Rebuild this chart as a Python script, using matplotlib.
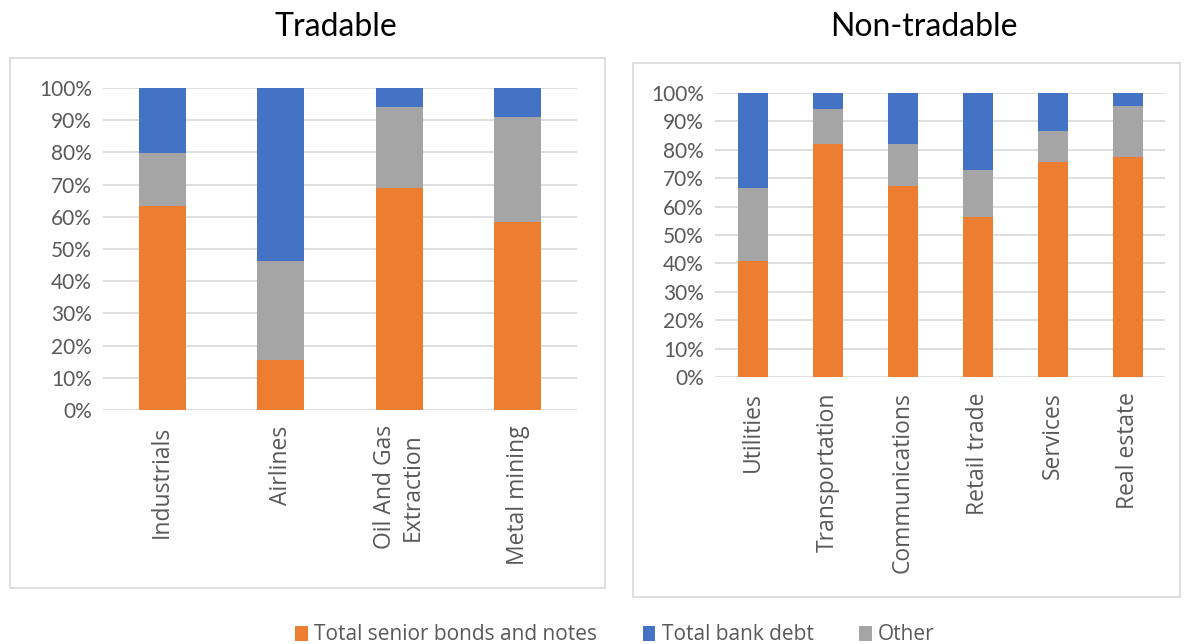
import matplotlib
matplotlib.use("Agg")
import matplotlib.pyplot as plt
from matplotlib.patches import Rectangle
from matplotlib.ticker import PercentFormatter

plt.rcParams['font.family'] = ['Lato', 'DejaVu Sans']

# Data (shares in %)
trad_cats = ["Industrials", "Airlines", "Oil And Gas\nExtraction", "Metal mining"]
trad_bonds = [63.5, 15.4, 69.0, 58.5]
trad_other = [16.3, 31.0, 25.0, 32.5]
trad_bank = [20.2, 53.6, 6.0, 9.0]

nontrad_cats = ["Utilities", "Transportation", "Communications", "Retail trade", "Services", "Real estate"]
nontrad_bonds = [40.8, 82.0, 67.1, 56.2, 75.6, 77.3]
nontrad_other = [25.6, 12.5, 14.8, 16.8, 11.1, 18.1]
nontrad_bank = [33.6, 5.5, 18.1, 27.0, 13.3, 4.6]

series_names = ["Total senior bonds and notes", "Total bank debt", "Other"]
titles = ["Tradable", "Non-tradable"]

C_ORANGE = "#ED7D31"
C_BLUE = "#4472C4"
C_GRAY = "#A5A5A5"
GRID = "#D9D9D9"
TXT = "#595959"

fig = plt.figure(figsize=(11.84, 6.44), dpi=100)

# panel frames
for (x, y, w, h) in [(10/1184, 56/644, 595/1184, 530/644), (633/1184, 47/644, 547/1184, 534/644)]:
    fig.add_artist(Rectangle((x, y), w, h, transform=fig.transFigure, fill=False,
                             edgecolor=GRID, linewidth=1.2))

ax1 = fig.add_axes([103/1184, 234/644, 474/1184, 322/644])
ax2 = fig.add_axes([715/1184, 267/644, 450/1184, 284/644])


def draw(ax, cats, bonds, other, bank):
    xs = range(len(cats))
    b1 = ax.bar(xs, bonds, width=0.4, color=C_ORANGE, zorder=3)
    b3 = ax.bar(xs, other, width=0.4, bottom=bonds, color=C_GRAY, zorder=3)
    bot = [a + b for a, b in zip(bonds, other)]
    b2 = ax.bar(xs, bank, width=0.4, bottom=bot, color=C_BLUE, zorder=3)
    ax.set_xlim(-0.5, len(cats) - 0.5)
    ax.set_ylim(0, 100)
    ax.set_yticks(range(0, 101, 10))
    ax.yaxis.set_major_formatter(PercentFormatter(decimals=0))
    ax.grid(axis='y', color=GRID, linewidth=1.2, zorder=0)
    ax.set_axisbelow(True)
    for s in ax.spines.values():
        s.set_visible(False)
    ax.tick_params(axis='both', length=0, labelcolor=TXT)
    ax.tick_params(axis='y', pad=8, labelsize=15)
    ax.tick_params(axis='x', pad=11)
    ax.set_xticks(list(xs))
    ax.set_xticklabels(cats, rotation=90, ha='center', va='top', multialignment='center',
                       family=['Open Sans', 'DejaVu Sans'], fontsize=16.5)
    return b1, b2, b3


h = draw(ax1, trad_cats, trad_bonds, trad_other, trad_bank)
draw(ax2, nontrad_cats, nontrad_bonds, nontrad_other, nontrad_bank)

fig.text(336/1184, 1 - 27/644, titles[0], ha='center', va='center', fontsize=23, color='black')
fig.text(924/1184, 1 - 27/644, titles[1], ha='center', va='center', fontsize=23, color='black')

fig.legend(h, series_names, loc='center', bbox_to_anchor=(615/1184, 1 - 635/644), ncol=3,
           frameon=False, prop={'family': ['Open Sans', 'DejaVu Sans'], 'size': 15},
           labelcolor=TXT, handlelength=0.6, handleheight=0.7,
           handletextpad=0.3, columnspacing=2.2)

fig.savefig("out.png", dpi=100)
